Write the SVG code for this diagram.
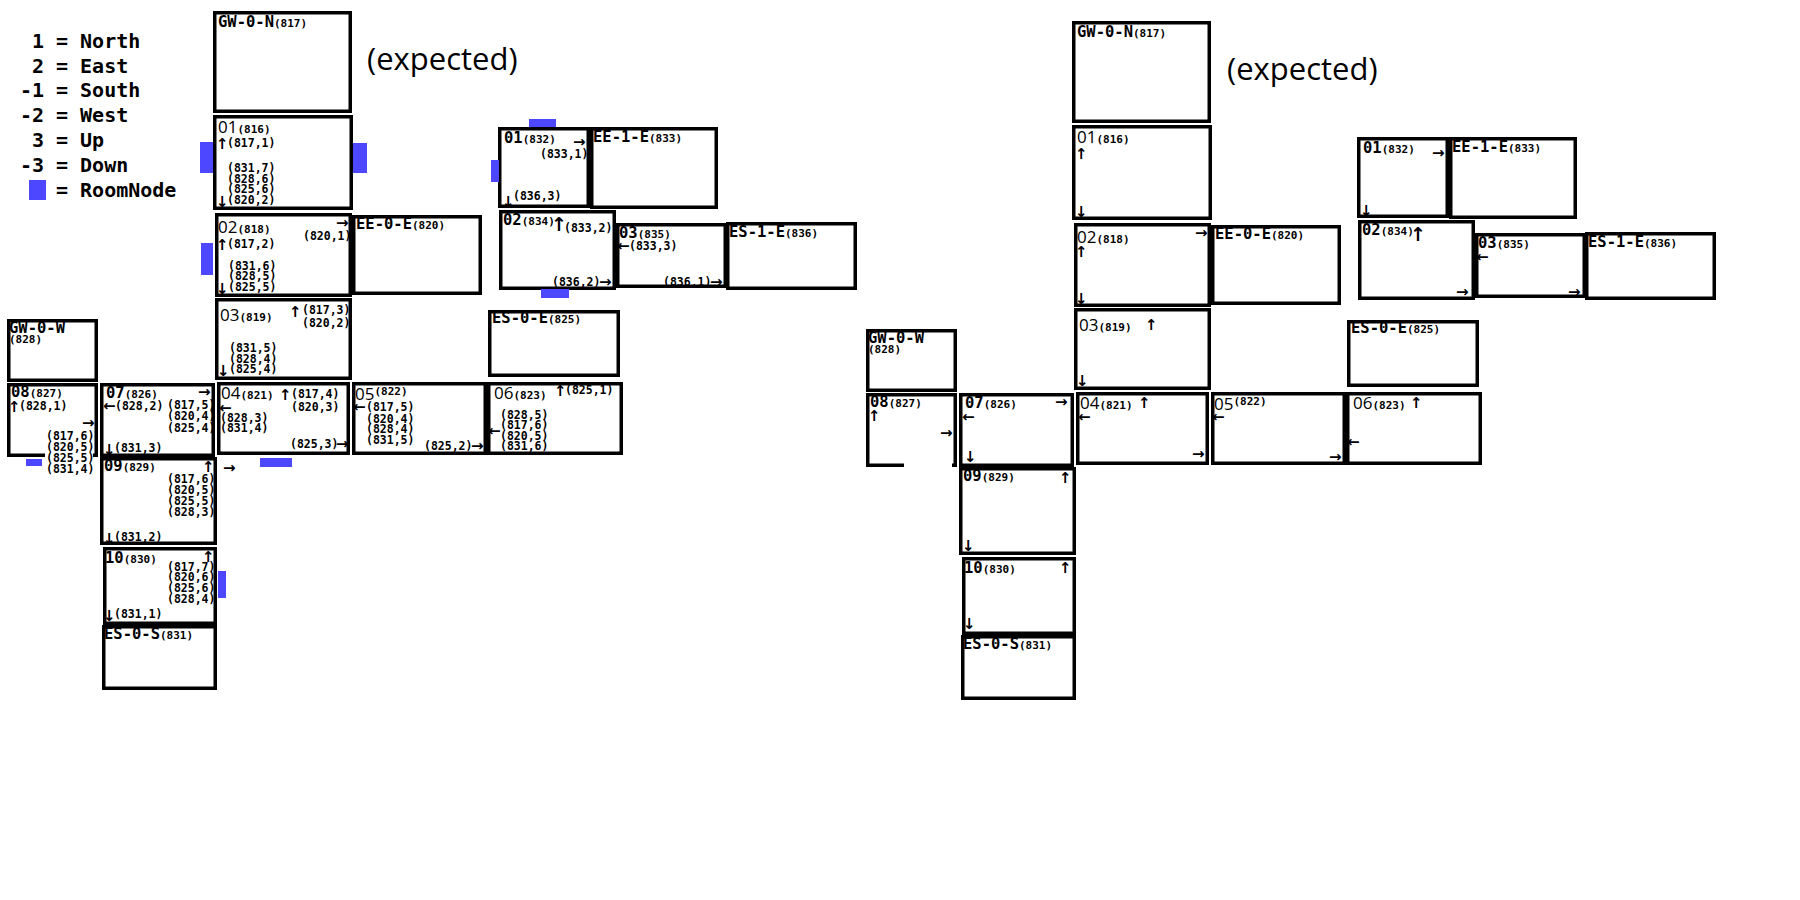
<svg xmlns="http://www.w3.org/2000/svg" width="1800" height="900" viewBox="0 0 1800 900">
<style>
.b{fill:none;stroke:#000;stroke-width:3.5}
.nm{font-family:"DejaVu Sans Mono",monospace;font-weight:bold;font-size:15.5px}
.id{font-family:"DejaVu Sans Mono",monospace;font-weight:bold;font-size:11px}
.rn{font-family:"Open Sans",sans-serif;font-size:17px;font-weight:normal}
.c{font-family:"DejaVu Sans Mono",monospace;font-weight:bold;font-size:11.5px}
.a{font-family:"DejaVu Sans",sans-serif;font-weight:bold;font-size:15px}
.a2{font-family:"DejaVu Sans",sans-serif;font-weight:bold;font-size:19px}
.lg{font-family:"DejaVu Sans Mono",monospace;font-weight:bold;font-size:20px}
.ex{font-family:"Open Sans",sans-serif;font-size:31px}
.rm{fill:#4d47ff}
</style>
<rect width="1800" height="900" fill="#fff"/>
<g id="legend">
<text class="lg" x="44" y="48" text-anchor="end">1</text><text class="lg" x="56" y="48">= North</text>
<text class="lg" x="44" y="73" text-anchor="end">2</text><text class="lg" x="56" y="73">= East</text>
<text class="lg" x="44" y="97" text-anchor="end">-1</text><text class="lg" x="56" y="97">= South</text>
<text class="lg" x="44" y="122" text-anchor="end">-2</text><text class="lg" x="56" y="122">= West</text>
<text class="lg" x="44" y="147" text-anchor="end">3</text><text class="lg" x="56" y="147">= Up</text>
<text class="lg" x="44" y="172" text-anchor="end">-3</text><text class="lg" x="56" y="172">= Down</text>
<rect class="rm" x="29" y="180" width="17" height="20"/><text class="lg" x="56" y="197">= RoomNode</text>
</g>
<g id="connectors"></g>

<!-- LEFT (actual) -->
<g id="left">
<text class="ex" x="367" y="70">(expected)</text>
<g id="L-817"><rect class="b" x="214.75" y="12.75" width="135.5" height="98.5"/>
<text class="nm" x="218" y="27">GW-0-N<tspan class="id">(817)</tspan></text></g>
<g id="L-816"><rect class="b" x="214.75" y="116.75" width="136.5" height="91.5"/>
<text x="218" y="133"><tspan class="rn">01</tspan><tspan class="id">(816)</tspan></text>
<text class="a" x="216" y="149">↑</text><text class="c" x="227" y="147">(817,1)</text>
<text class="c" x="227" y="172">(831,7)</text>
<text class="c" x="227" y="183">(828,6)</text>
<text class="c" x="227" y="193">(825,6)</text>
<text class="a" x="216" y="207">↓</text><text class="c" x="227" y="204">(820,2)</text></g>
<g id="L-818"><rect class="b" x="216.75" y="214.75" width="133.5" height="80.5"/>
<text x="218" y="233"><tspan class="rn">02</tspan><tspan class="id">(818)</tspan></text>
<text class="a" x="336" y="228">→</text>
<text class="c" x="303" y="240">(820,1)</text>
<text class="a" x="216" y="250">↑</text><text class="c" x="227" y="248">(817,2)</text>
<text class="c" x="228" y="270">(831,6)</text>
<text class="c" x="228" y="280">(828,5)</text>
<text class="a" x="216" y="294">↓</text><text class="c" x="228" y="291">(825,5)</text></g>
<g id="L-820"><rect class="b" x="353.75" y="216.75" width="126.5" height="76.5"/>
<text class="nm" x="356" y="229">EE-0-E<tspan class="id">(820)</tspan></text></g>
<g id="L-819"><rect class="b" x="216.75" y="299.75" width="133.5" height="78.5"/>
<text x="220" y="321"><tspan class="rn">03</tspan><tspan class="id">(819)</tspan></text>
<text class="a" x="289" y="317">↑</text><text class="c" x="302" y="314">(817,3)</text>
<text class="c" x="302" y="327">(820,2)</text>
<text class="c" x="229" y="352">(831,5)</text>
<text class="c" x="229" y="363">(828,4)</text>
<text class="a" x="217" y="376">↓</text><text class="c" x="229" y="373">(825,4)</text></g>
<g id="L-821"><rect class="b" x="218.75" y="383.75" width="129.5" height="69.5"/>
<text x="221" y="399"><tspan class="rn">04</tspan><tspan class="id">(821)</tspan></text>
<text class="a" x="279" y="400">↑</text><text class="c" x="291" y="398">(817,4)</text>
<text class="c" x="291" y="411">(820,3)</text>
<text class="a" x="219" y="413">←</text>
<text class="c" x="220" y="422">(828,3)</text>
<text class="c" x="220" y="432">(831,4)</text>
<text class="c" x="290" y="448">(825,3)</text><text class="a" x="336" y="449">→</text></g>
<g id="L-822"><rect class="b" x="353.75" y="383.75" width="131.5" height="69.5"/>
<text x="355" y="400"><tspan class="rn">05</tspan><tspan class="id" dy="-5">(822)</tspan></text>
<text class="a" x="353" y="412">←</text><text class="c" x="366" y="411">(817,5)</text>
<text class="c" x="366" y="423">(820,4)</text>
<text class="c" x="366" y="433">(828,4)</text>
<text class="c" x="366" y="444">(831,5)</text>
<text class="c" x="424" y="450">(825,2)</text><text class="a" x="471" y="451">→</text></g>
<g id="L-823"><rect class="b" x="488.75" y="383.75" width="132.5" height="69.5"/>
<text x="494" y="399"><tspan class="rn">06</tspan><tspan class="id">(823)</tspan></text>
<text class="a" x="554" y="396">↑</text><text class="c" x="565" y="394">(825,1)</text>
<text class="c" x="500" y="419">(828,5)</text>
<text class="c" x="500" y="429">(817,6)</text>
<text class="a" x="488" y="436">←</text>
<text class="c" x="500" y="440">(820,5)</text>
<text class="c" x="500" y="450">(831,6)</text></g>
<g id="L-825"><rect class="b" x="489.75" y="311.75" width="128.5" height="63.5"/>
<text class="nm" x="492" y="323">ES-0-E<tspan class="id">(825)</tspan></text></g>
<g id="L-828"><rect class="b" x="8.75" y="320.75" width="87.5" height="59.5"/>
<text class="nm" x="9" y="333">GW-0-W</text><text class="id" x="9" y="343">(828)</text></g>
<g id="L-827"><path class="b" d="M45 455.25H8.75V384.75H96.25V455.25H93"/>
<text class="nm" x="11" y="397">08<tspan class="id">(827)</tspan></text>
<text class="a" x="8" y="412">↑</text><text class="c" x="19" y="410">(828,1)</text>
<text class="a" x="82" y="428">→</text>
<text class="c" x="46" y="440">(817,6)</text>
<text class="c" x="46" y="451">(820,5)</text>
<text class="c" x="46" y="462">(825,5)</text>
<text class="c" x="46" y="473">(831,4)</text></g>
<g id="L-826"><rect class="b" x="101.75" y="384.75" width="111.5" height="70.5"/>
<text class="nm" x="106" y="398">07<tspan class="id">(826)</tspan></text>
<text class="a" x="198" y="397">→</text>
<text class="a" x="103" y="411">←</text><text class="c" x="115" y="410">(828,2)</text>
<text class="c" x="167" y="409">(817,5)</text>
<text class="c" x="167" y="420">(820,4)</text>
<text class="c" x="167" y="432">(825,4)</text>
<text class="a" x="103" y="455">↓</text><text class="c" x="114" y="452">(831,3)</text></g>
<g id="L-829"><rect class="b" x="101.75" y="458.75" width="113.5" height="84.5"/>
<text class="nm" x="104" y="471">09<tspan class="id">(829)</tspan></text>
<text class="a" x="202" y="472">↑</text>
<text class="c" x="167" y="483">(817,6)</text>
<text class="c" x="167" y="494">(820,5)</text>
<text class="c" x="167" y="505">(825,5)</text>
<text class="c" x="167" y="516">(828,3)</text>
<text class="a" x="103" y="544">↓</text><text class="c" x="114" y="541">(831,2)</text>
<text class="a" x="223" y="473">→</text></g>
<g id="L-830"><rect class="b" x="104.75" y="548.75" width="110.5" height="74.5"/>
<text class="nm" x="105" y="563">10<tspan class="id">(830)</tspan></text>
<text class="a" x="202" y="562">↑</text>
<text class="c" x="167" y="571">(817,7)</text>
<text class="c" x="167" y="581">(820,6)</text>
<text class="c" x="167" y="592">(825,6)</text>
<text class="c" x="167" y="603">(828,4)</text>
<text class="a" x="103" y="621">↓</text><text class="c" x="114" y="618">(831,1)</text></g>
<g id="L-831"><rect class="b" x="103.75" y="626.75" width="111.5" height="61.5"/>
<text class="nm" x="104" y="639">ES-0-S<tspan class="id">(831)</tspan></text></g>
<g id="L-832"><rect class="b" x="499.75" y="128.75" width="88.5" height="77.5"/>
<text class="nm" x="504" y="143">01<tspan class="id">(832)</tspan></text>
<text class="a" x="573" y="147">→</text>
<text class="c" x="540" y="158">(833,1)</text>
<text class="a" x="502" y="207">↓</text>
<text class="c" x="513" y="200">(836,3)</text></g>
<g id="L-833"><rect class="b" x="591.75" y="128.75" width="124.5" height="78.5"/>
<text class="nm" x="593" y="142">EE-1-E<tspan class="id">(833)</tspan></text></g>
<g id="L-834"><rect class="b" x="500.75" y="211.75" width="113.5" height="76.5"/>
<text class="nm" x="503" y="225">02<tspan class="id">(834)</tspan></text>
<text class="a2" x="551" y="231">↑</text>
<text class="c" x="564" y="232">(833,2)</text>
<text class="c" x="552" y="286">(836,2)</text><text class="a" x="599" y="287">→</text></g>
<g id="L-835"><rect class="b" x="617.75" y="224.75" width="107.5" height="61.5"/>
<text class="nm" x="619" y="238">03<tspan class="id">(835)</tspan></text>
<text class="a" x="617" y="251">←</text><text class="c" x="629" y="250">(833,3)</text>
<text class="c" x="663" y="286">(836,1)</text><text class="a" x="710" y="287">→</text></g>
<g id="L-836"><rect class="b" x="727.75" y="223.75" width="127.5" height="64.5"/>
<text class="nm" x="729" y="237">ES-1-E<tspan class="id">(836)</tspan></text></g>
<g id="L-roomnodes">
<rect class="rm" x="200" y="142" width="13" height="31"/>
<rect class="rm" x="353" y="143" width="14" height="30"/>
<rect class="rm" x="201" y="243" width="12" height="32"/>
<rect class="rm" x="491" y="160" width="8" height="22"/>
<rect class="rm" x="529" y="119" width="27" height="8"/>
<rect class="rm" x="541" y="289" width="28" height="9"/>
<rect class="rm" x="260" y="458" width="32" height="9"/>
<rect class="rm" x="218" y="571" width="8" height="27"/>
<rect class="rm" x="26" y="459" width="16" height="7"/>
</g>
</g>

<!-- RIGHT (expected) -->
<g id="right" transform="translate(859,10)">
<text class="ex" x="368" y="70">(expected)</text>
<g id="R-817"><rect class="b" x="214.75" y="12.75" width="135.5" height="98.5"/>
<text class="nm" x="218" y="27">GW-0-N<tspan class="id">(817)</tspan></text></g>
<g id="R-816"><rect class="b" x="214.75" y="116.75" width="136.5" height="91.5"/>
<text x="218" y="133"><tspan class="rn">01</tspan><tspan class="id">(816)</tspan></text>
<text class="a" x="216" y="149">↑</text>
<text class="a" x="216" y="207">↓</text></g>
<g id="R-818"><rect class="b" x="216.75" y="214.75" width="133.5" height="80.5"/>
<text x="218" y="233"><tspan class="rn">02</tspan><tspan class="id">(818)</tspan></text>
<text class="a" x="336" y="228">→</text>
<text class="a" x="216" y="247">↑</text>
<text class="a" x="216" y="294">↓</text></g>
<g id="R-820"><rect class="b" x="353.75" y="216.75" width="126.5" height="76.5"/>
<text class="nm" x="356" y="229">EE-0-E<tspan class="id">(820)</tspan></text></g>
<g id="R-819"><rect class="b" x="216.75" y="299.75" width="133.5" height="78.5"/>
<text x="220" y="321"><tspan class="rn">03</tspan><tspan class="id">(819)</tspan></text>
<text class="a" x="286" y="320">↑</text>
<text class="a" x="217" y="376">↓</text></g>
<g id="R-821"><rect class="b" x="218.75" y="383.75" width="129.5" height="69.5"/>
<text x="221" y="399"><tspan class="rn">04</tspan><tspan class="id">(821)</tspan></text>
<text class="a" x="279" y="398">↑</text>
<text class="a" x="219" y="412">←</text>
<text class="a" x="333" y="449">→</text></g>
<g id="R-822"><rect class="b" x="353.75" y="383.75" width="131.5" height="69.5"/>
<text x="355" y="400"><tspan class="rn">05</tspan><tspan class="id" dy="-5">(822)</tspan></text>
<text class="a" x="353" y="412">←</text>
<text class="a" x="470" y="452">→</text></g>
<g id="R-823"><rect class="b" x="488.75" y="383.75" width="132.5" height="69.5"/>
<text x="494" y="399"><tspan class="rn">06</tspan><tspan class="id">(823)</tspan></text>
<text class="a" x="551" y="398">↑</text>
<text class="a" x="488" y="437">←</text></g>
<g id="R-825"><rect class="b" x="489.75" y="311.75" width="128.5" height="63.5"/>
<text class="nm" x="492" y="323">ES-0-E<tspan class="id">(825)</tspan></text></g>
<g id="R-828"><rect class="b" x="8.75" y="320.75" width="87.5" height="59.5"/>
<text class="nm" x="9" y="333">GW-0-W</text><text class="id" x="9" y="343">(828)</text></g>
<g id="R-827"><path class="b" d="M45 455.25H8.75V384.75H96.25V455.25H93"/>
<text class="nm" x="11" y="397">08<tspan class="id">(827)</tspan></text>
<text class="a" x="9" y="411">↑</text>
<text class="a" x="81" y="428">→</text></g>
<g id="R-826"><rect class="b" x="101.75" y="384.75" width="111.5" height="70.5"/>
<text class="nm" x="106" y="398">07<tspan class="id">(826)</tspan></text>
<text class="a" x="196" y="397">→</text>
<text class="a" x="103" y="412">←</text>
<text class="a" x="105" y="452">↓</text></g>
<g id="R-829"><rect class="b" x="101.75" y="458.75" width="113.5" height="84.5"/>
<text class="nm" x="104" y="471">09<tspan class="id">(829)</tspan></text>
<text class="a" x="200" y="473">↑</text>
<text class="a" x="103" y="541">↓</text></g>
<g id="R-830"><rect class="b" x="104.75" y="548.75" width="110.5" height="74.5"/>
<text class="nm" x="105" y="563">10<tspan class="id">(830)</tspan></text>
<text class="a" x="200" y="563">↑</text>
<text class="a" x="104" y="619">↓</text></g>
<g id="R-831"><rect class="b" x="103.75" y="626.75" width="111.5" height="61.5"/>
<text class="nm" x="104" y="639">ES-0-S<tspan class="id">(831)</tspan></text></g>
<g id="R-832"><rect class="b" x="499.75" y="128.75" width="88.5" height="77.5"/>
<text class="nm" x="504" y="143">01<tspan class="id">(832)</tspan></text>
<text class="a" x="573" y="148">→</text>
<text class="a" x="501" y="206">↓</text></g>
<g id="R-833"><rect class="b" x="591.75" y="128.75" width="124.5" height="78.5"/>
<text class="nm" x="593" y="142">EE-1-E<tspan class="id">(833)</tspan></text></g>
<g id="R-834"><rect class="b" x="500.75" y="211.75" width="113.5" height="76.5"/>
<text class="nm" x="503" y="225">02<tspan class="id">(834)</tspan></text>
<text class="a2" x="551" y="231">↑</text>
<text class="a" x="597" y="287">→</text></g>
<g id="R-835"><rect class="b" x="617.75" y="224.75" width="107.5" height="61.5"/>
<text class="nm" x="619" y="238">03<tspan class="id">(835)</tspan></text>
<text class="a" x="617" y="252">←</text>
<text class="a" x="709" y="287">→</text></g>
<g id="R-836"><rect class="b" x="727.75" y="223.75" width="127.5" height="64.5"/>
<text class="nm" x="729" y="237">ES-1-E<tspan class="id">(836)</tspan></text></g>
</g>
</svg>
